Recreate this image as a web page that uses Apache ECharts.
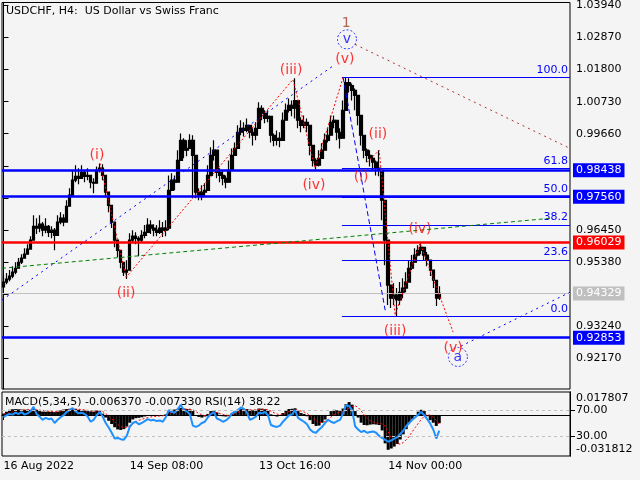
<!DOCTYPE html>
<html><head><meta charset="utf-8">
<script src="https://cdn.jsdelivr.net/npm/echarts@6/dist/echarts.min.js"></script>
<style>html,body{margin:0;padding:0;background:#f4f4f4}#c{width:640px;height:480px}</style>
</head><body><div id="c"></div>
<script>
const F = 'DejaVu Sans';
const N = 189; // bar slots across the chart (data + empty space on the right)
const firstOpen = 0.9455;
const closes = [
0.9471,0.9481,0.9491,0.9504,0.9517,0.9537,0.9551,0.9564,0.9581,0.9611,
0.9657,0.9651,0.9664,0.9644,0.9657,0.9637,0.9644,0.9627,0.9671,0.9684,
0.9671,0.9724,0.9761,0.9811,0.9824,0.9817,0.9837,0.9824,0.9827,0.9804,
0.9801,0.9844,0.9851,0.9827,0.9771,0.9727,0.9671,0.9611,0.9577,0.9537,
0.9504,0.9511,0.9611,0.9624,0.9617,0.9611,0.9627,0.9637,0.9661,0.9651,
0.9644,0.9637,0.9651,0.9644,0.9651,0.9777,0.9811,0.9804,0.9877,0.9944,
0.9911,0.9917,0.9944,0.9894,0.9771,0.9761,0.9771,0.9777,0.9827,0.9894,
0.9911,0.9837,0.9827,0.9817,0.9804,0.9844,0.9894,0.9917,0.9971,0.9984,
0.9977,0.9994,0.9971,0.9961,0.9984,1.0051,1.0034,1.0017,1.0024,0.9961,
0.9944,0.9951,0.9944,1.0011,1.0044,1.0061,1.0051,1.0077,1.0011,0.9994,
1.0004,0.9994,0.9927,0.9877,0.9861,0.9884,0.9911,0.9944,0.9961,1.0004,
1.0011,0.9971,0.9951,1.0044,1.0137,1.0127,1.0111,1.0094,1.0027,0.9961,
0.9911,0.9894,0.9884,0.9871,0.9851,0.9844,0.9744,0.9611,0.9461,0.9417,
0.9427,0.9411,0.9437,0.9451,0.9471,0.9517,0.9537,0.9561,0.9577,0.9587,
0.9561,0.9544,0.9511,0.9477,0.9417,0.9433];
const highs = [
0.9494,0.9501,0.9511,0.9524,0.9537,0.9551,0.9564,0.9584,0.9597,0.9624,
0.9694,0.9684,0.9694,0.9671,0.9684,0.9661,0.9657,0.9651,0.9694,0.9704,
0.9697,0.9744,0.9784,0.9844,0.9861,0.9851,0.9861,0.9844,0.9851,0.9827,
0.9817,0.9857,0.9867,0.9864,0.9794,0.9761,0.9704,0.9637,0.9597,0.9561,
0.9527,0.9544,0.9634,0.9644,0.9637,0.9624,0.9644,0.9661,0.9684,0.9677,
0.9664,0.9661,0.9677,0.9671,0.9677,0.9827,0.9834,0.9827,0.9911,0.9967,
0.9951,0.9944,0.9964,0.9961,0.9794,0.9784,0.9794,0.9801,0.9861,0.9921,
0.9944,0.9861,0.9851,0.9844,0.9827,0.9877,0.9917,0.9937,0.9994,1.0011,
1.0004,1.0017,0.9991,0.9984,1.0004,1.0071,1.0061,1.0044,1.0044,0.9984,
0.9967,0.9977,0.9971,1.0037,1.0067,1.0084,1.0077,1.0151,1.0037,1.0021,
1.0027,1.0017,0.9951,0.9911,0.9884,0.9911,0.9934,0.9967,0.9984,1.0027,
1.0027,0.9994,0.9984,1.0077,1.0154,1.0151,1.0134,1.0117,1.0061,0.9994,
0.9934,0.9917,0.9911,0.9894,0.9877,0.9911,0.9827,0.9677,0.9544,0.9461,
0.9467,0.9451,0.9471,0.9484,0.9504,0.9544,0.9561,0.9584,0.9594,0.9601,
0.9584,0.9571,0.9537,0.9504,0.9451,0.9457];
const lows = [
0.9451,0.9464,0.9474,0.9484,0.9497,0.9517,0.9531,0.9551,0.9564,0.9584,
0.9611,0.9631,0.9637,0.9624,0.9634,0.9621,0.9617,0.9577,0.9644,0.9664,
0.9657,0.9704,0.9737,0.9791,0.9804,0.9797,0.9817,0.9804,0.9811,0.9784,
0.9767,0.9824,0.9837,0.9811,0.9754,0.9704,0.9651,0.9587,0.9554,0.9517,
0.9491,0.9481,0.9577,0.9604,0.9597,0.9557,0.9604,0.9617,0.9637,0.9631,
0.9624,0.9624,0.9631,0.9621,0.9624,0.9644,0.9777,0.9777,0.9844,0.9911,
0.9884,0.9891,0.9924,0.9751,0.9751,0.9744,0.9744,0.9757,0.9794,0.9861,
0.9877,0.9817,0.9804,0.9794,0.9784,0.9817,0.9871,0.9894,0.9944,0.9961,
0.9957,0.9971,0.9951,0.9927,0.9944,1.0017,1.0011,1.0001,1.0004,0.9937,
0.9924,0.9927,0.9921,0.9984,1.0017,1.0037,1.0024,1.0017,0.9984,0.9971,
0.9984,0.9971,0.9894,0.9857,0.9847,0.9857,0.9884,0.9917,0.9937,0.9977,
0.9984,0.9944,0.9917,0.9951,1.0094,1.0104,1.0077,1.0044,0.9994,0.9927,
0.9884,0.9871,0.9857,0.9844,0.9827,0.9824,0.9677,0.9527,0.9394,0.9384,
0.9394,0.9358,0.9394,0.9417,0.9437,0.9484,0.9511,0.9537,0.9557,0.9564,
0.9544,0.9524,0.9491,0.9451,0.9391,0.9411];
const macd = [
0.0010,0.0025,0.0040,0.0044,0.0045,0.0044,0.0042,0.0040,0.0042,0.0040,
0.0046,0.0040,0.0030,0.0026,0.0025,0.0026,0.0024,0.0022,0.0026,0.0035,
0.0042,0.0046,0.0048,0.0050,0.0046,0.0040,0.0036,0.0034,0.0030,0.0028,
0.0026,0.0034,0.0036,0.0010,-0.0020,-0.0045,-0.0070,-0.0095,-0.0112,-0.0116,
-0.0110,-0.0090,-0.0060,-0.0035,-0.0025,-0.0022,-0.0018,-0.0012,-0.0008,-0.0006,
-0.0008,-0.0006,-0.0004,-0.0003,0.0005,0.0030,0.0040,0.0042,0.0046,0.0055,
0.0050,0.0046,0.0044,0.0030,-0.0005,-0.0015,-0.0020,-0.0012,0.0008,0.0030,
0.0036,0.0020,-0.0004,-0.0010,-0.0012,-0.0006,0.0012,0.0028,0.0040,0.0045,
0.0044,0.0046,0.0040,0.0036,0.0040,0.0050,0.0048,0.0044,0.0036,0.0005,
-0.0008,-0.0012,-0.0008,0.0015,0.0036,0.0046,0.0048,0.0052,0.0030,0.0015,
0.0008,-0.0010,-0.0040,-0.0070,-0.0085,-0.0082,-0.0060,-0.0035,-0.0008,0.0030,
0.0040,0.0036,0.0030,0.0050,0.0085,0.0100,0.0080,0.0030,-0.0020,-0.0060,
-0.0078,-0.0080,-0.0075,-0.0072,-0.0074,-0.0078,-0.0120,-0.0220,-0.0270,-0.0260,
-0.0245,-0.0225,-0.0190,-0.0150,-0.0110,-0.0060,-0.0030,0.0000,0.0025,0.0040,
0.0030,-0.0010,-0.0040,-0.0060,-0.0085,-0.0064];
const signal = [
0.0008,0.0012,0.0018,0.0024,0.0030,0.0035,0.0038,0.0039,0.0040,0.0040,
0.0041,0.0041,0.0038,0.0034,0.0031,0.0029,0.0027,0.0025,0.0025,0.0028,
0.0032,0.0037,0.0041,0.0045,0.0046,0.0045,0.0042,0.0039,0.0036,0.0033,
0.0030,0.0031,0.0033,0.0026,0.0011,-0.0008,-0.0029,-0.0052,-0.0074,-0.0090,
-0.0099,-0.0097,-0.0085,-0.0068,-0.0052,-0.0042,-0.0034,-0.0026,-0.0020,-0.0015,
-0.0012,-0.0010,-0.0008,-0.0006,-0.0003,0.0008,0.0019,0.0027,0.0033,0.0041,
0.0044,0.0045,0.0045,0.0040,0.0025,0.0012,0.0001,-0.0005,-0.0002,0.0009,
0.0018,0.0019,0.0011,0.0004,-0.0002,-0.0003,0.0002,0.0011,0.0021,0.0029,
0.0034,0.0038,0.0039,0.0038,0.0039,0.0043,0.0045,0.0044,0.0041,0.0029,
0.0017,0.0007,0.0002,0.0006,0.0016,0.0026,0.0034,0.0040,0.0037,0.0030,
0.0023,0.0012,-0.0005,-0.0027,-0.0046,-0.0058,-0.0059,-0.0051,-0.0037,-0.0015,
0.0003,0.0015,0.0022,0.0025,0.0034,0.0051,0.0067,0.0071,0.0058,0.0032,
0.0001,-0.0026,-0.0044,-0.0056,-0.0062,-0.0066,-0.0070,-0.0087,-0.0131,-0.0177,
-0.0205,-0.0222,-0.0226,-0.0214,-0.0193,-0.0165,-0.0130,-0.0097,-0.0065,-0.0035,
-0.0010,0.0003,-0.0002,-0.0018,-0.0040,-0.0073];
const rsi = [
59,62,64,63,66,64,67,63,65,68,
75,64,60,55,58,56,57,50,55,59,
62,67,70,73,68,65,66,64,60,52,
55,62,67,60,50,43,35,26,27,25,
24,30,44,50,52,48,50,53,56,54,
55,53,54,52,59,70,67,66,72,78,
70,68,64,46,44,46,50,52,59,64,
67,57,55,52,54,58,65,67,70,74,
72,66,55,57,60,66,65,67,62,47,
45,44,46,52,57,62,63,70,58,55,
52,48,40,36,35,40,44,50,55,52,
50,53,55,65,78,76,70,45,40,36,
38,35,36,37,35,30,27,24,21,23,
26,28,33,38,45,50,55,59,63,67,
62,56,49,40,26,38.22];

const priceTicks = [0.92170,0.93240,0.94310,0.95380,0.96450,0.97520,0.98590,0.99660,1.00730,1.01800,1.02870,1.03940];
const priceLabels = [0.92170,0.93240,0.95380,0.96450,0.99660,1.00730,1.01800,1.02870,1.03940];
const xTickIdx = [0, 42, 85, 128];
const xTickText = ['16 Aug 2022','14 Sep 08:00','13 Oct 16:00','14 Nov 00:00'];
const macdMin = -0.031812, macdMax = 0.017807;
const rsiLevels = [70, 30];

const levelValues = [0.98438, 0.97560, 0.96029, 0.92853, 0.94329];
const levelColors = ['#0000ff','#0000ff','#ff0000','#0000ff','#c0c0c0'];
const levelWidths = [2.5, 2.5, 2.5, 2.5, 1];

const fibValues = [1.0154, 0.98495, 0.97555, 0.96614, 0.95451, 0.9357];
const fibNames = ['100.0','61.8','50.0','38.2','23.6','0.0'];
const fibStart = 112.6;

const upWave = [[32.1,0.9867],[40.8,0.9487],[96.3,1.0147],[103.7,0.9851],[113,1.0154]];
const downWave = [[121,0.9871],[125,0.9911],[130.3,0.9361],[138.6,0.9601],[149.6,0.9304]];
const blueUp = [[-0.5,0.9411],[110.3,1.0197]];
const blueDown = [[113,1.0154],[127,0.9377]];
const blueA = [[152.2,0.9257],[188.5,0.9437]];
const brownDown = [[117,1.0264],[188.5,0.9917]];
const greenLine = [[-0.5,0.9517],[182.2,0.9684]];

const waveLabels = [
 ['(i)',31.1,0.9894],['(ii)',40.8,0.9434],['(iii)',95.7,1.0177],['(iv)',103.3,0.9794],['(v)',113.6,1.0214],
 ['(i)',119,0.9821],['(ii)',124.6,0.9964],['(iii)',130.3,0.9307],['(iv)',138.6,0.9647],['(v)',149.6,0.9251]
];
const circleLabels = [['v',114.3,1.0281],['a',151.2,0.9221]];
const degreeLabels = [['1',114,1.0334]];

const cats = Array.from({length:N}, (_, i) => String(i));
const ohlc = closes.map((c, i) => {
  const o = i ? closes[i-1] : firstOpen;
  return [o, c, Math.min(lows[i], o, c), Math.max(highs[i], o, c)];
});
const tickShown = (i) => xTickIdx.indexOf(i) >= 0;

function lineSeries(data, color, dash, width) {
  return {type:'line', xAxisIndex:2, yAxisIndex:0, data:data, showSymbol:false, symbol:'none',
    silent:true, z:5, lineStyle:{color:color, width:width||1, type:dash}};
}

const chart = echarts.init(document.getElementById('c'), null, {renderer:'canvas'});
const option = {
  animation:false,
  backgroundColor:'#f4f4f4',
  textStyle:{fontFamily:F},
  title:[
    {text:'USDCHF, H4:  US Dollar vs Swiss Franc', left:6, top:6, padding:0,
     textStyle:{fontSize:11, fontWeight:'normal', color:'#000', fontFamily:F}},
    {text:'MACD(5,34,5) -0.006370 -0.007330 RSI(14) 38.22', left:5, top:397, padding:0,
     textStyle:{fontSize:11, fontWeight:'normal', color:'#000', fontFamily:F}}
  ],
  grid:[
    {left:2, top:2, width:568, height:387, show:true, borderColor:'#000', borderWidth:1},
    {left:2, top:392, width:568, height:64, show:true, borderColor:'#000', borderWidth:1}
  ],
  xAxis:[
    {type:'category', gridIndex:0, data:cats, boundaryGap:true, axisLine:{show:false}, axisTick:{show:false}, axisLabel:{show:false}, splitLine:{show:false}},
    {type:'category', gridIndex:1, data:cats, boundaryGap:true,
     axisLine:{show:true, lineStyle:{color:'#000'}},
     axisTick:{show:true, interval:(i)=>tickShown(i), alignWithLabel:true, length:5, lineStyle:{color:'#000'}},
     axisLabel:{show:true, interval:(i)=>tickShown(i), align:'left', margin:5, color:'#000', fontSize:11, fontFamily:F,
       formatter:(v)=>{ const k = xTickIdx.indexOf(+v); return k>=0 ? xTickText[k] : ''; }},
     splitLine:{show:false}},
    {type:'value', gridIndex:0, min:-0.5, max:N-0.5, show:false}
  ],
  yAxis:[
    {type:'value', gridIndex:0, position:'right', min:0.9114, max:1.0404, splitLine:{show:false},
     axisLine:{show:true, lineStyle:{color:'#000'}},
     axisTick:{show:true, customValues:priceTicks, length:5, lineStyle:{color:'#000'}},
     axisLabel:{show:true, customValues:priceLabels, formatter:(v)=>v.toFixed(5), margin:6, color:'#000', fontSize:11, fontFamily:F}},
    {type:'value', gridIndex:1, position:'right', min:macdMin, max:macdMax, splitLine:{show:false},
     axisLine:{show:true, lineStyle:{color:'#000'}}, axisTick:{show:false},
     axisLabel:{show:true, customValues:[macdMin, macdMax], margin:6, color:'#000', fontSize:11, fontFamily:F,
       formatter:(v)=> v>0 ? '{t|'+macdMax.toFixed(6)+'}' : '{b|'+macdMin.toFixed(6)+'}',
       rich:{t:{padding:[12,0,0,0], fontSize:11, fontFamily:F, color:'#000'}, b:{padding:[0,0,14,0], fontSize:11, fontFamily:F, color:'#000'}}}},
    {type:'value', gridIndex:1, position:'right', min:-1, max:98, splitLine:{show:false},
     axisLine:{show:true, lineStyle:{color:'#000'}},
     axisTick:{show:true, customValues:rsiLevels, length:5, lineStyle:{color:'#000'}},
     axisLabel:{show:true, customValues:rsiLevels, formatter:(v)=>v.toFixed(2), margin:6, color:'#000', fontSize:11, fontFamily:F}}
  ],
  series:[
    lineSeries(greenLine, '#008000', [4,3], 1),
    lineSeries(blueUp, '#0000ff', [2,4], 1),
    lineSeries(brownDown, '#b03030', [2,4], 1),
    lineSeries(blueDown, '#0000ff', [5,3], 1),
    lineSeries(blueA, '#0000ff', [2,4], 1),
    {type:'line', xAxisIndex:2, yAxisIndex:0, data:[], silent:true, z:2,
     markLine:{symbol:['none','none'], silent:true, animation:false,
       data: levelValues.map((v,k)=>[
         {coord:[-0.5, v], lineStyle:{color:levelColors[k], width:levelWidths[k], type:'solid'},
          label:{show:true, position:'end', distance:3, formatter:v.toFixed(5), color:'#fff',
            backgroundColor:levelColors[k], padding:[2,3,1,3], fontSize:11, fontFamily:F}},
         {coord:[N-0.5, v]}])}},
    {type:'candlestick', xAxisIndex:0, yAxisIndex:0, data:ohlc, barWidth:3, z:3,
     itemStyle:{color:'#000', color0:'#000', borderColor:'#000', borderColor0:'#000', borderWidth:1.2}},
    Object.assign(lineSeries(upWave, '#ff0000', [2,2], 1), {
      markLine:{symbol:['none','none'], silent:true, animation:false,
        data: fibValues.map((v,k)=>[
          {coord:[fibStart, v], lineStyle:{color:'#0000ff', width:1, type:'solid'},
           label:{show:true, position:'insideEndTop', distance:2, formatter:fibNames[k], color:'#0000ff', fontSize:11, fontFamily:F}},
          {coord:[N-0.5, v]}])}}),
    lineSeries(downWave, '#ff0000', [2,2], 1),
    {type:'scatter', xAxisIndex:2, yAxisIndex:0, silent:true, z:10, symbolSize:1,
     itemStyle:{color:'rgba(0,0,0,0)'},
     data: waveLabels.map(w=>({name:w[0], value:[w[1], w[2]]})),
     label:{show:true, position:'inside', formatter:'{b}', color:'#ff0000', fontSize:14, fontFamily:F}},
    {type:'scatter', xAxisIndex:2, yAxisIndex:0, silent:true, z:10, symbol:'circle', symbolSize:19,
     itemStyle:{color:'rgba(0,0,0,0)', borderColor:'#0000ff', borderWidth:1, borderType:[2,2]},
     data: circleLabels.map(w=>({name:w[0], value:[w[1], w[2]]})),
     label:{show:true, position:'inside', formatter:'{b}', color:'#0000ff', fontSize:14, fontFamily:F}},
    {type:'scatter', xAxisIndex:2, yAxisIndex:0, silent:true, z:10, symbolSize:1,
     itemStyle:{color:'rgba(0,0,0,0)'},
     data: degreeLabels.map(w=>({name:w[0], value:[w[1], w[2]]})),
     label:{show:true, position:'inside', formatter:'{b}', color:'#a0402a', fontSize:14, fontFamily:F}},
    {type:'bar', xAxisIndex:1, yAxisIndex:1, data:macd, barCategoryGap:'0%', barWidth:'100%', silent:true, z:2,
     itemStyle:{color:'#000'}},
    {type:'line', xAxisIndex:1, yAxisIndex:1, data:signal, showSymbol:false, symbol:'none', silent:true, z:3,
     lineStyle:{color:'#ff0000', width:1, type:[2,2]}},
    {type:'line', xAxisIndex:1, yAxisIndex:2, data:rsi, showSymbol:false, symbol:'none', silent:true, z:4,
     lineStyle:{color:'#1e90ff', width:2},
     markLine:{symbol:['none','none'], silent:true, animation:false, label:{show:false},
       data: rsiLevels.map(v=>({yAxis:v, lineStyle:{color:'#c0c0c0', width:1, type:[3,3]}}))}}
  ]
};
chart.setOption(option);
</script></body></html>
